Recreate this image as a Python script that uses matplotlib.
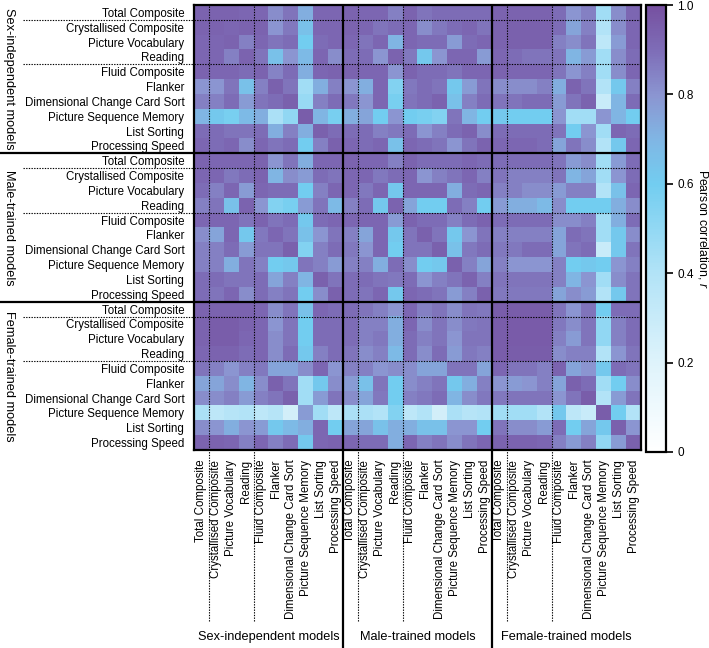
import numpy as np
import matplotlib
matplotlib.use("Agg")
import matplotlib.pyplot as plt
from matplotlib.colors import LinearSegmentedColormap
from matplotlib.transforms import blended_transform_factory

plt.rcParams['font.family'] = ['Liberation Sans', 'DejaVu Sans']
plt.rcParams['mathtext.fontset'] = 'custom'
plt.rcParams['mathtext.it'] = 'Liberation Sans:italic'
plt.rcParams['mathtext.rm'] = 'Liberation Sans'

measures = ["Total Composite", "Crystallised Composite", "Picture Vocabulary", "Reading",
            "Fluid Composite", "Flanker", "Dimensional Change Card Sort",
            "Picture Sequence Memory", "List Sorting", "Processing Speed"]
groups = ["Sex-independent models", "Male-trained models", "Female-trained models"]

# rows: sex-independent models, columns: sex-indep | male | female
sex_indep = [
    [.93, .93, .93, .92, .92, .82, .88, .72, .92, .92,  .93, .92, .92, .85, .93, .88, .90, .90, .90, .90,  .93, .93, .93, .93, .90, .80, .85, .45, .82, .92],
    [.93, .93, .92, .93, .93, .80, .87, .65, .92, .92,  .93, .92, .88, .90, .92, .82, .87, .90, .92, .88,  .93, .94, .94, .94, .90, .75, .85, .40, .82, .92],
    [.92, .92, .93, .85, .92, .88, .90, .60, .90, .92,  .92, .88, .92, .70, .92, .90, .90, .78, .90, .92,  .93, .94, .94, .94, .85, .82, .88, .35, .78, .92],
    [.92, .92, .85, .93, .88, .65, .80, .68, .92, .82,  .90, .90, .80, .93, .87, .62, .80, .92, .92, .78,  .92, .90, .88, .88, .88, .70, .78, .45, .82, .90],
    [.93, .92, .92, .90, .93, .84, .90, .72, .92, .93,  .93, .92, .92, .80, .93, .90, .90, .88, .92, .92,  .93, .92, .92, .92, .88, .80, .85, .45, .82, .92],
    [.80, .80, .88, .65, .85, .94, .88, .45, .72, .85,  .80, .72, .92, .55, .87, .90, .88, .62, .78, .88,  .82, .82, .82, .85, .72, .93, .88, .40, .62, .85],
    [.85, .85, .90, .78, .88, .90, .94, .48, .85, .90,  .87, .80, .92, .58, .88, .90, .93, .65, .85, .90,  .88, .88, .90, .90, .78, .88, .93, .30, .70, .90],
    [.70, .62, .58, .68, .72, .42, .50, .95, .70, .58,  .72, .75, .60, .80, .60, .58, .55, .88, .70, .60,  .62, .60, .60, .60, .80, .45, .45, .80, .70, .60],
    [.90, .90, .88, .88, .90, .72, .85, .72, .94, .90,  .90, .90, .85, .87, .90, .80, .85, .90, .93, .82,  .90, .90, .90, .90, .88, .60, .80, .45, .92, .90],
    [.92, .90, .92, .82, .92, .88, .90, .60, .85, .94,  .92, .90, .92, .65, .92, .90, .88, .80, .88, .93,  .92, .92, .92, .90, .75, .88, .82, .40, .62, .92],
]

male_trained = [
    [.93, .92, .92, .92, .93, .80, .88, .72, .92, .92,  .93, .92, .92, .85, .93, .90, .90, .90, .92, .90,  .90, .90, .90, .90, .88, .78, .82, .45, .78, .90],
    [.92, .92, .87, .90, .93, .70, .82, .78, .90, .88,  .92, .92, .87, .90, .92, .80, .85, .88, .92, .85,  .88, .85, .85, .85, .88, .70, .75, .45, .80, .90],
    [.90, .85, .92, .78, .92, .90, .90, .60, .85, .92,  .92, .87, .92, .62, .92, .92, .92, .72, .90, .92,  .85, .85, .82, .82, .78, .85, .85, .40, .65, .92],
    [.85, .88, .65, .93, .80, .55, .58, .78, .88, .68,  .85, .90, .62, .93, .75, .60, .60, .90, .85, .60,  .78, .72, .72, .68, .82, .60, .60, .60, .72, .82],
    [.92, .92, .92, .88, .93, .88, .90, .62, .90, .92,  .92, .92, .92, .78, .93, .90, .90, .85, .90, .93,  .90, .90, .90, .90, .82, .82, .85, .45, .72, .90],
    [.82, .75, .92, .62, .87, .92, .88, .65, .80, .88,  .85, .75, .92, .62, .88, .94, .88, .62, .80, .88,  .85, .85, .85, .85, .75, .90, .88, .45, .62, .82],
    [.85, .85, .90, .78, .88, .88, .94, .55, .85, .90,  .87, .80, .92, .60, .88, .88, .94, .65, .87, .90,  .87, .87, .90, .90, .75, .88, .90, .30, .62, .88],
    [.85, .85, .72, .88, .85, .60, .62, .88, .85, .78,  .85, .85, .72, .90, .82, .60, .62, .94, .85, .75,  .85, .80, .80, .80, .85, .60, .62, .60, .80, .85],
    [.90, .90, .88, .88, .90, .75, .85, .70, .94, .88,  .90, .90, .88, .87, .90, .80, .85, .88, .93, .85,  .88, .88, .88, .88, .85, .70, .80, .45, .82, .88],
    [.90, .88, .92, .82, .90, .85, .88, .60, .82, .94,  .90, .88, .92, .62, .92, .90, .88, .78, .85, .94,  .87, .87, .87, .87, .75, .82, .78, .40, .62, .88],
]

female_trained = [
    [.93, .93, .93, .93, .92, .82, .88, .65, .92, .90,  .90, .88, .85, .80, .92, .85, .88, .82, .88, .87,  .95, .95, .95, .95, .88, .80, .88, .60, .90, .90],
    [.93, .95, .95, .93, .92, .80, .88, .60, .90, .90,  .90, .85, .85, .72, .92, .82, .88, .82, .87, .88,  .95, .96, .96, .96, .87, .82, .88, .50, .85, .90],
    [.93, .95, .95, .92, .92, .82, .88, .60, .90, .90,  .90, .85, .87, .72, .90, .85, .88, .80, .88, .88,  .95, .96, .96, .96, .85, .78, .88, .50, .85, .90],
    [.92, .93, .93, .90, .92, .82, .90, .62, .85, .90,  .88, .82, .85, .68, .90, .82, .90, .78, .87, .85,  .95, .95, .95, .95, .82, .85, .85, .40, .80, .88],
    [.88, .85, .80, .85, .87, .75, .75, .82, .92, .80,  .85, .85, .80, .82, .82, .75, .75, .88, .88, .75,  .92, .88, .88, .85, .93, .75, .80, .62, .90, .88],
    [.75, .75, .82, .70, .82, .94, .88, .45, .62, .82,  .78, .65, .88, .60, .82, .85, .88, .62, .72, .85,  .80, .78, .80, .85, .75, .94, .90, .45, .60, .82],
    [.82, .82, .85, .78, .85, .88, .94, .45, .78, .88,  .82, .75, .87, .60, .85, .87, .90, .70, .82, .87,  .87, .88, .88, .88, .80, .88, .95, .40, .78, .88],
    [.42, .35, .38, .40, .35, .38, .25, .78, .45, .35,  .42, .42, .40, .55, .35, .40, .25, .42, .38, .40,  .45, .45, .45, .40, .62, .35, .30, .95, .60, .40],
    [.82, .80, .72, .80, .78, .62, .68, .72, .92, .60,  .75, .75, .65, .72, .72, .65, .65, .80, .80, .60,  .88, .82, .82, .78, .90, .60, .75, .62, .94, .80],
    [.93, .93, .92, .85, .92, .85, .90, .62, .92, .93,  .92, .90, .90, .72, .92, .85, .88, .82, .88, .92,  .93, .93, .93, .92, .85, .78, .85, .50, .78, .94],
]

corr = np.array(sex_indep + male_trained + female_trained)
labels = measures * 3

cmap = LinearSegmentedColormap.from_list("pc", [
    (0.0, "#ffffff"), (0.2, "#def3fb"), (0.4, "#b2e3f7"), (0.6, "#72cdf0"),
    (0.7, "#80b6e4"), (0.8, "#8b95d1"), (0.9, "#7e6db7"), (1.0, "#7650a0")])

W, H = 709, 648
fig = plt.figure(figsize=(W / 100, H / 100), dpi=100)
ax = fig.add_axes([194 / W, 1 - 450 / H, 447 / W, 445 / H])
im = ax.imshow(corr, cmap=cmap, vmin=0, vmax=1, aspect="auto",
               extent=(0, 30, 30, 0), interpolation="nearest")
ax.set_xlim(0, 30)
ax.set_ylim(30, 0)

ax.set_yticks(np.arange(30) + 0.5)
ax.set_yticklabels(labels, fontsize=8.3)
ax.set_xticks(np.arange(30) + 0.5)
ax.set_xticklabels(labels, fontsize=8.3, rotation=90)
ax.tick_params(length=0, pad=7)
for s in ax.spines.values():
    s.set_linewidth(1.6)

# separators inside the map and out into the label areas
ty = blended_transform_factory(fig.transFigure, ax.transData)
tx = blended_transform_factory(ax.transData, fig.transFigure)
dot = dict(color="black", lw=0.8, ls=(0, (1.2, 1.2)))
for g in range(3):
    for k in (1, 4):
        p = g * 10 + k
        ax.axhline(p, **dot)
        ax.axvline(p, **dot)
        ax.plot([23 / W, 194 / W], [p, p], transform=ty, clip_on=False, **dot)
        ax.plot([p, p], [1 - 621 / H, 1 - 450 / H], transform=tx, clip_on=False, **dot)
for p in (10, 20):
    ax.axhline(p, color="black", lw=1.6)
    ax.axvline(p, color="black", lw=1.6)
    ax.plot([0, 194 / W], [p, p], transform=ty, clip_on=False, color="black", lw=1.6)
    ax.plot([p, p], [0, 1 - 450 / H], transform=tx, clip_on=False, color="black", lw=1.6)

for g, name in enumerate(groups):
    ax.text(9 / W, g * 10 + 5, name, transform=ty, rotation=270,
            fontsize=9.2, ha="center", va="center", clip_on=False)
    ax.text(g * 10 + 5, 1 - 637 / H, name, transform=tx, fontsize=9.2,
            ha="center", va="center")

cax = fig.add_axes([646 / W, 1 - 452 / H, 20 / W, 447 / H])
cb = fig.colorbar(im, cax=cax)
cb.set_ticks([0, 0.2, 0.4, 0.6, 0.8, 1.0])
cb.set_ticklabels(["0", "0.2", "0.4", "0.6", "0.8", "1.0"])
cb.outline.set_linewidth(1.6)
cax.tick_params(labelsize=8.5, length=5, width=1.2, pad=3)
cb.set_label("Pearson correlation, $r$", rotation=270, fontsize=8.8, labelpad=12)

fig.savefig("out.png", dpi=100)
